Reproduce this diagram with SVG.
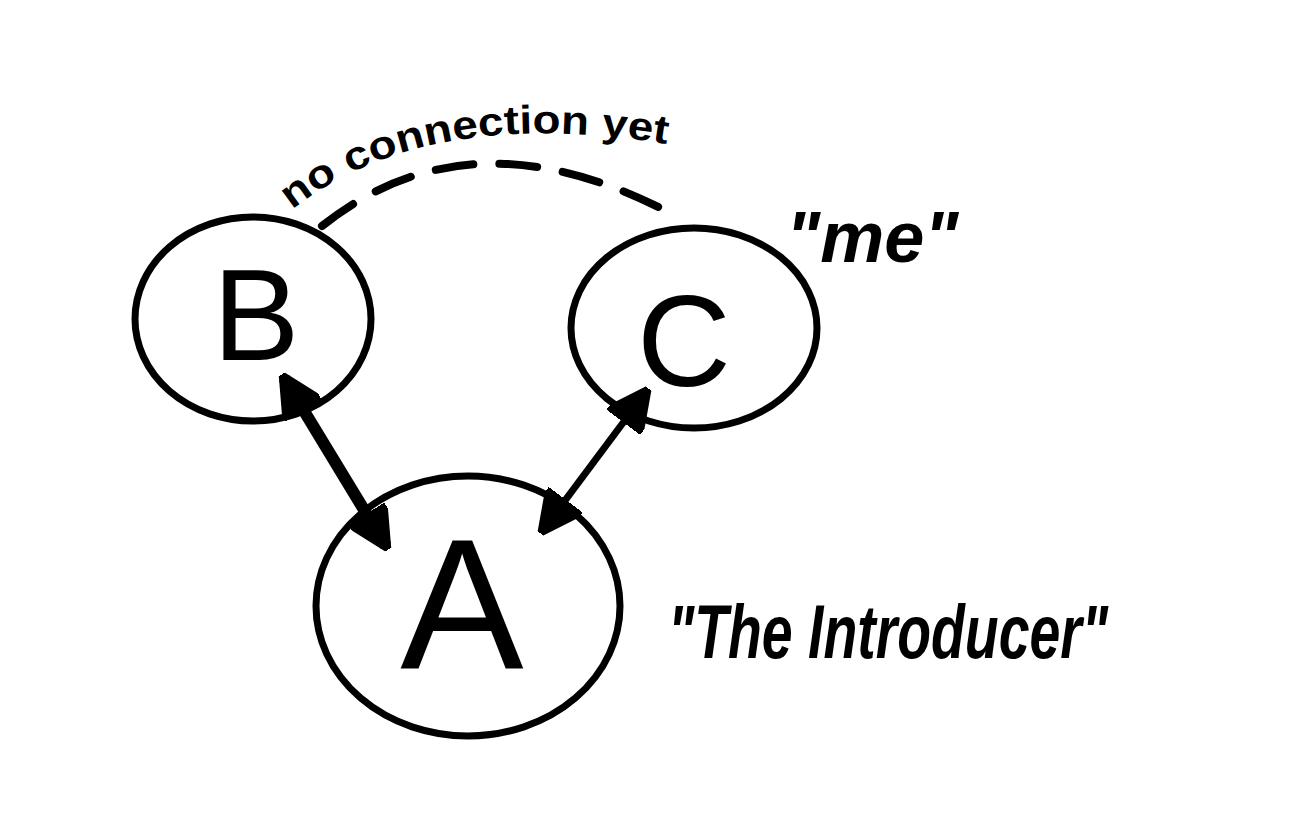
<svg xmlns="http://www.w3.org/2000/svg" width="1302" height="818" viewBox="0 0 1302 818">
<style>
.node{fill:none;stroke:#000;stroke-width:7;stroke-linecap:round}
.lbl{font-family:"Liberation Sans",sans-serif;fill:#000}
.big{font-size:130px;text-anchor:middle}
.note{font-style:italic;font-weight:bold}
</style>
<defs>
<marker id="ah" viewBox="0 0 10 10" refX="9" refY="5" markerWidth="3.5" markerHeight="3.5" orient="auto-start-reverse" markerUnits="strokeWidth">
<path d="M0,0 L10,5 L0,10 z" fill="#000" stroke="#000" stroke-width="1.5" stroke-linejoin="round"/>
</marker>
<marker id="ah2" viewBox="0 0 10 10" refX="9" refY="5" markerWidth="6" markerHeight="6" orient="auto-start-reverse" markerUnits="strokeWidth">
<path d="M0,0 L10,5 L0,10 z" fill="#000" stroke="#000" stroke-width="1.5" stroke-linejoin="round"/>
</marker>
<path id="arc" d="M 292 210 Q 430 100 690 148"/>
</defs>
<rect width="1302" height="818" fill="#fff"/>
<g id="connectors">
<path d="M 284 378 L 386 546" stroke="#000" stroke-width="12" fill="none" marker-start="url(#ah)" marker-end="url(#ah)"/>
<path d="M 646 392 L 543 530" stroke="#000" stroke-width="7" fill="none" marker-start="url(#ah2)" marker-end="url(#ah2)"/>
<path d="M 322 226 Q 470 108 670 213" stroke="#000" stroke-width="8" fill="none" stroke-dasharray="38,26" stroke-linecap="round"/>
<text class="lbl" font-size="40" font-weight="bold"><textPath href="#arc" textLength="392" lengthAdjust="spacingAndGlyphs">no connection yet</textPath></text>
</g>
<g id="node-B">
<ellipse class="node" cx="253" cy="319" rx="118" ry="102"/>
<text class="lbl big" x="256" y="360">B</text>
</g>
<g id="node-C">
<ellipse class="node" cx="694" cy="328" rx="123" ry="100"/>
<text class="lbl big" x="684" y="386">C</text>
</g>
<g id="node-A">
<ellipse class="node" cx="468" cy="606" rx="152" ry="130"/>
<text class="lbl" font-size="185" text-anchor="middle" x="462" y="668">A</text>
</g>
<text class="lbl note" font-size="72" x="786" y="262">"me"</text>
<text class="lbl note" font-size="76" x="668" y="658" textLength="440" lengthAdjust="spacingAndGlyphs">"The Introducer"</text>
</svg>
